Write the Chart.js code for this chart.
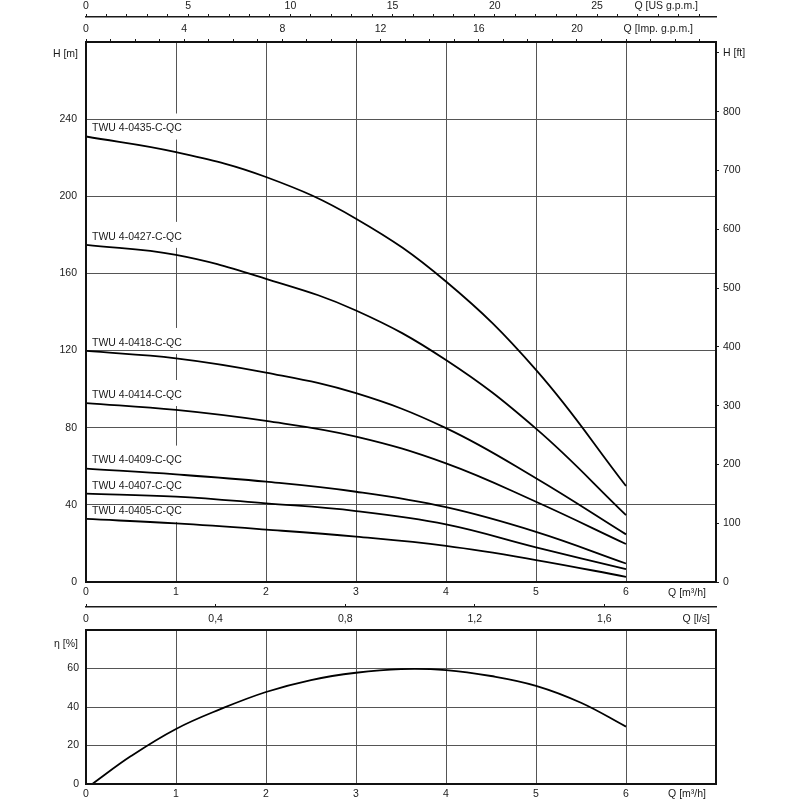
<!DOCTYPE html>
<html>
<head>
<meta charset="utf-8">
<script src="https://cdn.jsdelivr.net/npm/chart.js@4.4.1/dist/chart.umd.min.js"></script>
<style>
  body { margin: 0; background: #fff; }
  #wrap { position: relative; width: 800px; height: 800px; }
  canvas { position: absolute; left: 0; }
  #head-chart { top: 0; }
  #eff-chart { top: 600px; }
</style>
</head>
<body>
<div id="wrap">
  <canvas id="head-chart" width="800" height="600"></canvas>
  <canvas id="eff-chart" width="800" height="200"></canvas>
</div>
<script>
// flow in m³/h
const flow = [0, 1, 2, 3, 4, 5, 6];

const pumpModels = [
  "TWU 4-0435-C-QC",
  "TWU 4-0427-C-QC",
  "TWU 4-0418-C-QC",
  "TWU 4-0414-C-QC",
  "TWU 4-0409-C-QC",
  "TWU 4-0407-C-QC",
  "TWU 4-0405-C-QC",
];

// head in m at Q = 0..6 m³/h
const head0435 = [231.0, 222.9, 210.0, 188.4, 155.8, 110.0, 49.8];
const head0427 = [174.8, 169.6, 157.2, 140.8, 115.1, 79.5, 34.7];
const head0418 = [119.8, 116.0, 108.6, 97.9, 79.8, 53.8, 24.7];
const head0414 = [92.8, 89.2, 83.5, 75.4, 61.5, 41.6, 19.7];
const head0409 = [58.8, 55.8, 52.0, 46.8, 38.8, 26.0, 9.6];
const head0407 = [45.8, 44.3, 40.8, 36.8, 29.9, 18.0, 6.7];
const head0405 = [32.7, 30.4, 27.2, 23.5, 18.7, 11.4, 2.7];

// efficiency curve
const effFlow = [0.07, 0.5, 1, 1.5, 2, 2.5, 3, 3.5, 4, 4.5, 5, 5.5, 6];
const effValues = [0, 14.5, 28.6, 39.0, 47.8, 54.0, 57.8, 59.7, 59.2, 56.1, 51.0, 42.2, 29.8];

// ticks
const flowTicks = [0, 1, 2, 3, 4, 5, 6, 7];
const headTicks = [0, 40, 80, 120, 160, 200, 240, 280];
const headFtTicks = [0, 100, 200, 300, 400, 500, 600, 700, 800, 900];
const usGpmLabels = [0, 5, 10, 15, 20, 25];
const impGpmLabels = [0, 4, 8, 12, 16, 20];
const lsTicks = [0, 0.4, 0.8, 1.2, 1.6];
const lsLabels = ["0", "0,4", "0,8", "1,2", "1,6"];
const effTicks = [0, 20, 40, 60, 80];

const M3H_TO_USGPM = 4.4029;
const M3H_TO_IMPGPM = 3.6662;
const M3H_TO_LS = 1 / 3.6;
const M_TO_FT = 3.28084;

const GRID = "#555";
const INK = "#1a1a1a";
const FONT = "'Liberation Sans', Arial, sans-serif";
const FONT_SIZE = 10.5;

Chart.defaults.font.family = FONT;
Chart.defaults.font.size = FONT_SIZE;
Chart.defaults.color = INK;

const headSeries = [head0435, head0427, head0418, head0414, head0409, head0407, head0405];

const minorTicks = (max) => {
  const out = [];
  for (let v = 0; v <= max; v++) out.push(v);
  return out;
};

const fixHeight = (h) => (scale) => { scale.height = h; };
const fixWidth = (w) => (scale) => { scale.width = w; };
const setTicks = (values) => (scale) => { scale.ticks = values.map((v) => ({ value: v })); };

// frame round the plot area
const frame = {
  id: "frame",
  afterDatasetsDraw(chart) {
    const { ctx, chartArea: a } = chart;
    ctx.save();
    ctx.strokeStyle = "#111";
    ctx.lineWidth = 2;
    ctx.strokeRect(a.left, a.top, a.right - a.left, a.bottom - a.top);
    ctx.restore();
  },
};

const labelY = (chart, i) => chart.scales.y.getPixelForValue(headSeries[i][0]) - 8;

// gridline at Q = 1 is broken behind the curve names
const brokenGrid = {
  id: "brokenGrid",
  beforeDatasetsDraw(chart) {
    const { ctx, chartArea: a } = chart;
    const px = Math.round(chart.scales.x.getPixelForValue(1) - 0.5) + 0.5;
    const gaps = pumpModels.map((_, i) => {
      const c = labelY(chart, i);
      return [c - 15, c + 11];
    }).sort((p, q) => p[0] - q[0]);
    ctx.save();
    ctx.strokeStyle = GRID;
    ctx.lineWidth = 1;
    ctx.beginPath();
    let y = a.top;
    gaps.forEach(([g0, g1]) => {
      if (g0 > y) { ctx.moveTo(px, y); ctx.lineTo(px, g0); }
      y = Math.max(y, g1);
    });
    if (y < a.bottom) { ctx.moveTo(px, y); ctx.lineTo(px, a.bottom); }
    ctx.stroke();
    ctx.restore();
  },
};

const headText = {
  id: "headText",
  afterDraw(chart) {
    const { ctx, chartArea: a } = chart;
    ctx.save();
    ctx.font = FONT_SIZE + "px " + FONT;
    ctx.fillStyle = INK;
    ctx.textBaseline = "middle";
    ctx.textAlign = "right";
    ctx.fillText("H [m]", a.left - 8, a.top + 12);
    ctx.fillText("Q [US g.p.m.]", a.right - 18, 6);
    ctx.fillText("Q [Imp. g.p.m.]", a.right - 23, 29);
    ctx.fillText("Q [m³/h]", a.right - 10, a.bottom + 11);
    ctx.textAlign = "left";
    const x0 = chart.scales.x.getPixelForValue(0) + 6;
    pumpModels.forEach((name, i) => ctx.fillText(name, x0, labelY(chart, i)));
    ctx.restore();
  },
};

const effText = {
  id: "effText",
  afterDraw(chart) {
    const { ctx, chartArea: a } = chart;
    ctx.save();
    ctx.font = FONT_SIZE + "px " + FONT;
    ctx.fillStyle = INK;
    ctx.textBaseline = "middle";
    ctx.textAlign = "right";
    ctx.fillText("Q [l/s]", a.right - 6, a.top - 11);
    ctx.fillText("η [%]", a.left - 8, a.top + 14);
    ctx.fillText("Q [m³/h]", a.right - 10, a.bottom + 10);
    ctx.restore();
  },
};

const lineStyle = {
  borderColor: "#000",
  borderWidth: 1.8,
  pointRadius: 0,
  fill: false,
  tension: 0.4,
};

new Chart(document.getElementById("head-chart"), {
  type: "line",
  data: {
    datasets: pumpModels.map((name, i) => ({
      label: name,
      data: flow.map((q, j) => ({ x: q, y: headSeries[i][j] })),
      ...lineStyle,
    })),
  },
  options: {
    responsive: false,
    animation: false,
    plugins: { legend: { display: false }, tooltip: { enabled: false } },
    scales: {
      x: {
        type: "linear", axis: "x", position: "bottom", min: 0, max: 7,
        afterBuildTicks: setTicks(flowTicks),
        afterFit: fixHeight(18),
        grid: {
          color: (c) => (c.tick && c.tick.value === 1 ? "rgba(0,0,0,0)" : GRID),
          drawTicks: false,
        },
        border: { display: false },
        ticks: { padding: 4, autoSkip: false, maxRotation: 0, callback: (v) => (v === 7 ? "" : v) },
      },
      imp: {
        type: "linear", axis: "x", position: "top", weight: 0,
        min: 0, max: 7 * M3H_TO_IMPGPM,
        afterBuildTicks: setTicks(minorTicks(25)),
        afterFit: fixHeight(25),
        grid: { drawOnChartArea: false, tickLength: 3, tickColor: INK },
        border: { display: false },
        ticks: { padding: 3.4, autoSkip: false, maxRotation: 0, callback: (v) => (impGpmLabels.includes(v) ? v : "") },
      },
      us: {
        type: "linear", axis: "x", position: "top", weight: 1,
        min: 0, max: 7 * M3H_TO_USGPM,
        afterBuildTicks: setTicks(minorTicks(30)),
        afterFit: fixHeight(17),
        grid: { drawOnChartArea: false, tickLength: 3, tickColor: INK },
        border: { display: true, color: INK, width: 1.5 },
        ticks: { padding: 1.7, autoSkip: false, maxRotation: 0, callback: (v) => (usGpmLabels.includes(v) ? v : "") },
      },
      y: {
        type: "linear", axis: "y", position: "left", min: 0, max: 280,
        afterBuildTicks: setTicks(headTicks),
        afterFit: fixWidth(86),
        grid: { color: GRID, drawTicks: false },
        border: { display: false },
        ticks: { padding: 9, callback: (v) => (v === 280 ? "" : v) },
      },
      ft: {
        type: "linear", axis: "y", position: "right", min: 0, max: 280 * M_TO_FT,
        afterBuildTicks: setTicks(headFtTicks),
        afterFit: fixWidth(84),
        grid: { drawOnChartArea: false, tickLength: 3, tickColor: INK },
        border: { display: false },
        ticks: { padding: 4, callback: (v) => (v === 900 ? "H [ft]" : v) },
      },
    },
  },
  plugins: [brokenGrid, frame, headText],
});

new Chart(document.getElementById("eff-chart"), {
  type: "line",
  data: {
    datasets: [{
      label: "η",
      data: effFlow.map((q, i) => ({ x: q, y: effValues[i] })),
      ...lineStyle,
    }],
  },
  options: {
    responsive: false,
    animation: false,
    layout: { padding: { right: 84 } },
    plugins: { legend: { display: false }, tooltip: { enabled: false } },
    scales: {
      x: {
        type: "linear", axis: "x", position: "bottom", min: 0, max: 7,
        afterBuildTicks: setTicks(flowTicks),
        afterFit: fixHeight(16),
        grid: { color: GRID, drawTicks: false },
        border: { display: false },
        ticks: { padding: 3.5, autoSkip: false, maxRotation: 0, callback: (v) => (v === 7 ? "" : v) },
      },
      ls: {
        type: "linear", axis: "x", position: "top", weight: 0,
        min: 0, max: 7 * M3H_TO_LS,
        afterBuildTicks: setTicks(lsTicks),
        afterFit: fixHeight(23),
        grid: { drawOnChartArea: false, drawTicks: false },
        border: { display: false },
        ticks: { padding: 4.7, autoSkip: false, maxRotation: 0, callback: (v, i) => lsLabels[i] },
      },
      lsLine: {
        type: "linear", axis: "x", position: "top", weight: 1,
        min: 0, max: 7 * M3H_TO_LS,
        afterBuildTicks: setTicks(lsTicks),
        afterFit: fixHeight(7),
        grid: { drawOnChartArea: false, tickLength: 3, tickColor: INK },
        border: { display: true, color: INK, width: 1.5 },
        ticks: { display: false },
      },
      y: {
        type: "linear", axis: "y", position: "left", min: 0, max: 80,
        afterBuildTicks: setTicks(effTicks),
        afterFit: fixWidth(86),
        grid: { color: GRID, drawTicks: false },
        border: { display: false },
        ticks: { padding: 7, callback: (v) => (v === 80 ? "" : v) },
      },
    },
  },
  plugins: [frame, effText],
});
</script>
</body>
</html>
